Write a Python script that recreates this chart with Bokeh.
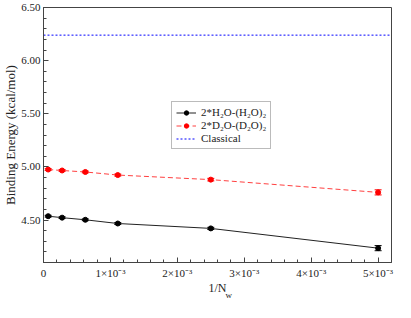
from bokeh.plotting import figure
from bokeh.models import (ColumnDataSource, Range1d, FixedTicker, Whisker, TeeHead,
                          Legend, LegendItem, LinearAxis)
from bokeh.embed import file_html
from bokeh.resources import INLINE

# ---- data ----
inv_nw = [0.00007, 0.000278, 0.000625, 0.00111, 0.0025, 0.005]
h2o_energy = [4.536, 4.522, 4.502, 4.467, 4.421, 4.235]
h2o_err = [0.008, 0.008, 0.008, 0.009, 0.010, 0.024]
d2o_energy = [4.975, 4.966, 4.952, 4.923, 4.880, 4.760]
d2o_err = [0.008, 0.008, 0.008, 0.009, 0.012, 0.024]
classical_energy = 6.24

x_min, x_max = 0.0, 0.0052
y_min, y_max = 4.1, 6.5
x_ticks = [0.0, 0.001, 0.002, 0.003, 0.004, 0.005]
x_tick_labels = ["0", "1×10⁻³", "2×10⁻³", "3×10⁻³", "4×10⁻³", "5×10⁻³"]
x_minor = [round(i * 0.0002, 6) for i in range(0, 27)]
y_ticks = [4.5, 5.0, 5.5, 6.0, 6.5]
y_tick_labels = ["4.50", "5.00", "5.50", "6.00", "6.50"]
y_minor = [round(4.1 + i * 0.1, 2) for i in range(0, 25)]

FONT = "Liberation Serif"
AX = "#444444"
TXT = "#222222"

p = figure(width=395, height=302, output_backend="svg", toolbar_location=None,
           x_range=Range1d(x_min, x_max), y_range=Range1d(y_min, y_max),
           min_border_left=0, min_border_right=4, min_border_top=7, min_border_bottom=0)
p.background_fill_color = "white"
p.border_fill_color = "white"
p.outline_line_color = AX
p.outline_line_width = 1
p.xgrid.visible = False
p.ygrid.visible = False

p.xaxis.ticker = FixedTicker(ticks=x_ticks, minor_ticks=x_minor)
p.xaxis.major_label_overrides = {t: l for t, l in zip(x_ticks, x_tick_labels)}
p.yaxis.ticker = FixedTicker(ticks=y_ticks, minor_ticks=y_minor)
p.yaxis.major_label_overrides = {t: l for t, l in zip(y_ticks, y_tick_labels)}

for ax in (p.xaxis[0], p.yaxis[0]):
    ax.axis_line_color = AX
    ax.major_tick_line_color = AX
    ax.minor_tick_line_color = AX
    ax.major_tick_in = 5
    ax.major_tick_out = 0
    ax.minor_tick_in = 3
    ax.minor_tick_out = 0
    ax.major_label_text_font = FONT
    ax.major_label_text_font_size = "11px"
    ax.major_label_text_color = TXT
    ax.axis_label_text_font = FONT
    ax.axis_label_text_font_style = "normal"
    ax.axis_label_text_color = TXT

p.yaxis.major_label_standoff = 3
p.yaxis.axis_label = "Binding Energy (kcal/mol)"
p.yaxis.axis_label_text_font_size = "13px"
p.yaxis.axis_label_standoff = 0

p.xaxis.major_label_standoff = 4
p.xaxis.axis_label = "1/N"
p.xaxis.axis_label_text_font_size = "12px"
p.xaxis.axis_label_standoff = -1

# subscript "w" of the x-axis title, drawn as the title of an empty second axis
sub_axis = LinearAxis(ticker=FixedTicker(ticks=[]), axis_line_color=None,
                      major_tick_in=0, major_tick_out=0, minor_tick_in=0, minor_tick_out=0,
                      major_label_standoff=0, axis_label="\u2003\u2003\u2002w",
                      axis_label_text_font=FONT, axis_label_text_font_size="9px",
                      axis_label_text_font_style="normal", axis_label_text_color=TXT,
                      axis_label_standoff=-8)
p.add_layout(sub_axis, "below")

src_h = ColumnDataSource(dict(x=inv_nw, y=h2o_energy,
                              lo=[v - e for v, e in zip(h2o_energy, h2o_err)],
                              hi=[v + e for v, e in zip(h2o_energy, h2o_err)]))
src_d = ColumnDataSource(dict(x=inv_nw, y=d2o_energy,
                              lo=[v - e for v, e in zip(d2o_energy, d2o_err)],
                              hi=[v + e for v, e in zip(d2o_energy, d2o_err)]))

lh = p.line("x", "y", source=src_h, line_color="#222222", line_width=1)
sh = p.scatter("x", "y", source=src_h, size=5, fill_color="black", line_color="black")
p.add_layout(Whisker(source=src_h, base="x", lower="lo", upper="hi", line_color="black",
                     line_width=1,
                     upper_head=TeeHead(size=7, line_color="black", line_width=1),
                     lower_head=TeeHead(size=7, line_color="black", line_width=1)))

ld = p.line("x", "y", source=src_d, line_color="#ff4040", line_width=1, line_dash="5 3")
sd = p.scatter("x", "y", source=src_d, size=5, fill_color="red", line_color="red")
p.add_layout(Whisker(source=src_d, base="x", lower="lo", upper="hi", line_color="red",
                     line_width=1,
                     upper_head=TeeHead(size=7, line_color="red", line_width=1),
                     lower_head=TeeHead(size=7, line_color="red", line_width=1)))

lc = p.line([x_min, x_max], [classical_energy, classical_energy], line_color="blue",
            line_width=1, line_dash="2 2")

legend = Legend(items=[
    LegendItem(label="2*H₂O-(H₂O)₂", renderers=[lh, sh]),
    LegendItem(label="2*D₂O-(D₂O)₂", renderers=[ld, sd]),
    LegendItem(label="Classical", renderers=[lc]),
], location=(128, 113))
legend.label_text_font = FONT
legend.label_text_font_size = "11px"
legend.label_text_color = TXT
legend.label_height = 11
legend.glyph_height = 11
legend.glyph_width = 20
legend.label_standoff = 5
legend.spacing = 1
legend.padding = 4
legend.margin = 0
legend.border_line_color = "#777777"
legend.border_line_width = 1
legend.background_fill_color = "white"
legend.background_fill_alpha = 1
p.add_layout(legend, "center")

open("out.html", "w").write(file_html(p, INLINE))
